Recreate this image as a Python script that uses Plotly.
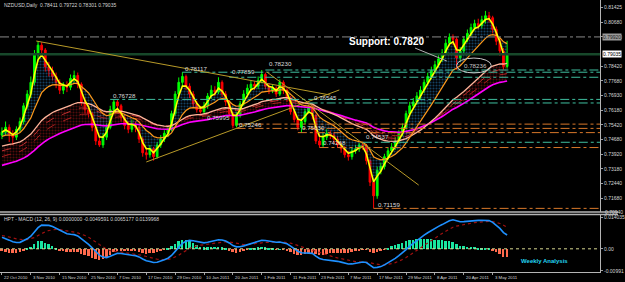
import plotly.graph_objects as go
import pandas as pd

# ---------------- data ----------------
date_labels = ["22 Oct 2010", "3 Nov 2010", "15 Nov 2010", "25 Nov 2010", "7 Dec 2010",
               "17 Dec 2010", "29 Dec 2010", "10 Jan 2011", "20 Jan 2011", "1 Feb 2011",
               "11 Feb 2011", "23 Feb 2011", "7 Mar 2011", "17 Mar 2011", "29 Mar 2011",
               "8 Apr 2011", "20 Apr 2011", "3 May 2011"]
date_label_bars = [0, 8, 16, 24, 32, 40, 48, 56, 64, 72, 80, 88, 96, 104, 112, 120, 128, 136]

opens = [0.7490, 0.7505, 0.7530, 0.7495, 0.7480, 0.7520, 0.7560, 0.7640, 0.7700, 0.7760,
         0.7900, 0.7950, 0.7925, 0.7840, 0.7820, 0.7790, 0.7760, 0.7720, 0.7740, 0.7735,
         0.7780, 0.7795, 0.7750, 0.7660, 0.7620, 0.7600, 0.7530, 0.7460, 0.7440, 0.7480,
         0.7530, 0.7620, 0.7660, 0.7640, 0.7580, 0.7540, 0.7520, 0.7545, 0.7530, 0.7470,
         0.7400, 0.7390, 0.7420, 0.7380, 0.7440, 0.7470, 0.7500, 0.7520, 0.7600, 0.7700,
         0.7760, 0.7790, 0.7740, 0.7700, 0.7650, 0.7620, 0.7610, 0.7640, 0.7690, 0.7720,
         0.7710, 0.7760, 0.7700, 0.7660, 0.7600, 0.7540, 0.7590, 0.7650, 0.7700, 0.7730,
         0.7750, 0.7740, 0.7770, 0.7800, 0.7740, 0.7720, 0.7730, 0.7700, 0.7760, 0.7720,
         0.7680, 0.7610, 0.7570, 0.7530, 0.7560, 0.7610, 0.7630, 0.7590, 0.7460, 0.7440,
         0.7480, 0.7500, 0.7490, 0.7470, 0.7440, 0.7420, 0.7390, 0.7380, 0.7410, 0.7420,
         0.7440, 0.7435, 0.7360, 0.7250, 0.7180, 0.7310, 0.7330, 0.7380, 0.7410, 0.7430,
         0.7460, 0.7500, 0.7530, 0.7600, 0.7640, 0.7660, 0.7690, 0.7720, 0.7760, 0.7790,
         0.7820, 0.7850, 0.7880, 0.7910, 0.7960, 0.7990, 0.7980, 0.7885, 0.7920, 0.7980,
         0.8010, 0.8040, 0.8060, 0.8050, 0.8080, 0.8100, 0.8090, 0.8030, 0.7970, 0.7920,
         0.78411]
highs = [0.7530, 0.7560, 0.7545, 0.7515, 0.7535, 0.7580, 0.7655, 0.7720, 0.7790, 0.7925,
         0.7971, 0.7965, 0.7935, 0.7865, 0.7840, 0.7810, 0.7775, 0.7760, 0.7765, 0.7800,
         0.7820, 0.7810, 0.7760, 0.7680, 0.7645, 0.7610, 0.7545, 0.7480, 0.7500, 0.7550,
         0.7640, 0.7673, 0.7670, 0.7650, 0.7595, 0.7560, 0.7570, 0.7560, 0.7540, 0.7480,
         0.7425, 0.7440, 0.7430, 0.7455, 0.7490, 0.7515, 0.7540, 0.7615, 0.7715, 0.7785,
         0.7812, 0.7800, 0.7755, 0.7715, 0.7665, 0.7640, 0.7660, 0.7705, 0.7745, 0.7740,
         0.7786, 0.7770, 0.7715, 0.7670, 0.7610, 0.7610, 0.7665, 0.7720, 0.7750, 0.7770,
         0.7765, 0.7790, 0.7823, 0.7810, 0.7755, 0.7750, 0.7740, 0.7775, 0.7770, 0.7730,
         0.7690, 0.7625, 0.7585, 0.7575, 0.7625, 0.7654, 0.7645, 0.7600, 0.7480, 0.7500,
         0.7520, 0.7515, 0.7505, 0.7485, 0.7455, 0.7435, 0.7410, 0.7430, 0.7440, 0.7450,
         0.7454, 0.7445, 0.7370, 0.7265, 0.7330, 0.7350, 0.7395, 0.7425, 0.7450, 0.7480,
         0.7515, 0.7550, 0.7615, 0.7660, 0.7680, 0.7710, 0.7740, 0.7775, 0.7810, 0.7840,
         0.7870, 0.7900, 0.7930, 0.7980, 0.8010, 0.8005, 0.7990, 0.7940, 0.7995, 0.8030,
         0.8060, 0.8080, 0.8085, 0.8100, 0.8125, 0.8120, 0.8100, 0.8045, 0.7985, 0.7935,
         0.79722]
lows = [0.7470, 0.7490, 0.7455, 0.7440, 0.7465, 0.7505, 0.7545, 0.7625, 0.7680, 0.7745,
        0.7870, 0.7890, 0.7815, 0.7790, 0.7770, 0.7730, 0.7700, 0.7700, 0.7710, 0.7720,
        0.7760, 0.7730, 0.7640, 0.7600, 0.7580, 0.7510, 0.7440, 0.7430, 0.7425, 0.7465,
        0.7520, 0.7600, 0.7615, 0.7560, 0.7520, 0.7500, 0.7505, 0.7505, 0.7450, 0.7380,
        0.7365, 0.7375, 0.7360, 0.7370, 0.7425, 0.7455, 0.7480, 0.7510, 0.7590, 0.7685,
        0.7740, 0.7720, 0.7680, 0.7635, 0.7605, 0.7600, 0.7599, 0.7625, 0.7675, 0.7690,
        0.7700, 0.7685, 0.7640, 0.7580, 0.7525, 0.7530, 0.7580, 0.7640, 0.7685, 0.7715,
        0.7720, 0.7725, 0.7755, 0.7725, 0.7700, 0.7705, 0.7685, 0.7690, 0.7700, 0.7660,
        0.7595, 0.7555, 0.7515, 0.7503, 0.7545, 0.7600, 0.7570, 0.7445, 0.7427, 0.7430,
        0.7465, 0.7470, 0.7450, 0.7425, 0.7400, 0.7375, 0.7360, 0.7365, 0.7395, 0.7405,
        0.7415, 0.7340, 0.7230, 0.7116, 0.7165, 0.7290, 0.7315, 0.7365, 0.7395, 0.7415,
        0.7445, 0.7485, 0.7520, 0.7585, 0.7625, 0.7645, 0.7675, 0.7705, 0.7745, 0.7775,
        0.7805, 0.7835, 0.7865, 0.7900, 0.7945, 0.7950, 0.7824, 0.7865, 0.7905, 0.7965,
        0.7995, 0.8025, 0.8030, 0.8035, 0.8060, 0.8065, 0.8010, 0.7950, 0.7895, 0.7825,
        0.78301]
closes = [0.7505, 0.7530, 0.7495, 0.7480, 0.7520, 0.7560, 0.7640, 0.7700, 0.7760, 0.7900,
          0.7950, 0.7925, 0.7840, 0.7820, 0.7790, 0.7760, 0.7720, 0.7740, 0.7735, 0.7780,
          0.7795, 0.7750, 0.7660, 0.7620, 0.7600, 0.7530, 0.7460, 0.7440, 0.7480, 0.7530,
          0.7620, 0.7660, 0.7640, 0.7580, 0.7540, 0.7520, 0.7545, 0.7530, 0.7470, 0.7400,
          0.7390, 0.7420, 0.7380, 0.7440, 0.7470, 0.7500, 0.7520, 0.7600, 0.7700, 0.7760,
          0.7790, 0.7740, 0.7700, 0.7650, 0.7620, 0.7610, 0.7640, 0.7690, 0.7720, 0.7710,
          0.7760, 0.7700, 0.7660, 0.7600, 0.7540, 0.7590, 0.7650, 0.7700, 0.7730, 0.7750,
          0.7740, 0.7770, 0.7800, 0.7740, 0.7720, 0.7730, 0.7700, 0.7760, 0.7720, 0.7680,
          0.7610, 0.7570, 0.7530, 0.7560, 0.7610, 0.7630, 0.7590, 0.7460, 0.7440, 0.7480,
          0.7500, 0.7490, 0.7470, 0.7440, 0.7420, 0.7390, 0.7380, 0.7410, 0.7420, 0.7440,
          0.7435, 0.7360, 0.7250, 0.7180, 0.7310, 0.7330, 0.7380, 0.7410, 0.7430, 0.7460,
          0.7500, 0.7530, 0.7600, 0.7640, 0.7660, 0.7690, 0.7720, 0.7760, 0.7790, 0.7820,
          0.7850, 0.7880, 0.7910, 0.7960, 0.7990, 0.7980, 0.7885, 0.7920, 0.7980, 0.8010,
          0.8040, 0.8060, 0.8050, 0.8080, 0.8100, 0.8090, 0.8030, 0.7970, 0.7920, 0.7841,
          0.79035]

# moving-average periods and their values just before the first visible bar
ma_periods = [3, 13, 34, 40, 47, 60]
ma_seeds = [0.7505, 0.7480, 0.7430, 0.7405, 0.7375, 0.7330]
macd_seeds = [0.7555, 0.7495, 0.0062]   # EMA12, EMA26, signal

price_ticks = [0.81425, 0.80680, 0.79920, 0.78420, 0.77680, 0.76930, 0.76180,
               0.75420, 0.74680, 0.73920, 0.73180, 0.72440, 0.71680]
macd_ticks = [0.014035, 0.0, -0.0099]
macd_tick_text = ["0.014035", "0.00", "-0.00991"]

# horizontal levels: price, first bar
teal_levels = [0.78230, 0.78117, 0.77859, 0.76728, 0.76545, 0.74537]
teal_start = [73, 50, 63, 30, 85, 100]
orange_levels = [0.75465, 0.75246, 0.75030, 0.74268, 0.71159]
orange_start = [65, 65, 82, 88, 103]
gray_level = 0.79920
last_price = 0.79035

# trend lines (bar, price) -> (bar, price)
trend_lines = [((9.5, 0.7971), (91.0, 0.7695)),
               ((40.0, 0.7353), (93.5, 0.7721)),
               ((73.4, 0.7813), (115.5, 0.7235))]

price_labels = ["0.78117", "0.77859", "0.78230", "0.76728", "0.75995", "0.75246",
                "0.76545", "0.75030", "0.74268", "0.74537", "0.71159"]
label_bars = [50.1, 63.3, 73.4, 30.1, 56.2, 65.2, 85.8, 82.5, 88.5, 100.3, 103.6]
label_prices = [0.7833, 0.7813, 0.7854, 0.7695, 0.7578, 0.7547, 0.7680, 0.7527,
                0.7455, 0.7481, 0.7138]

# ---------------- indicators ----------------
bars = list(range(len(closes)))


def ema(values, span, seed):
    s = pd.Series([seed] + list(values))
    return s.ewm(span=span, adjust=False).mean().iloc[1:].tolist()


mas = [ema(closes, p, s) for p, s in zip(ma_periods, ma_seeds)]
ma_fast, ma_orange, ma_salmon, ma_r1, ma_r2, ma_slow = mas
ema12 = ema(closes, 12, macd_seeds[0])
ema26 = ema(closes, 26, macd_seeds[1])
macd = [a - b for a, b in zip(ema12, ema26)]
signal = ema(macd, 9, macd_seeds[2])
hist = [m - s for m, s in zip(macd, signal)]

# ---------------- figure ----------------
XR = [-0.55, 165.75]
H_PLOT = 272.0
FONT = "Liberation Sans"

fig = go.Figure()

# red dotted ribbon between salmon and magenta
fig.add_trace(go.Scatter(x=bars, y=ma_slow, mode="lines", line=dict(width=0),
                         hoverinfo="skip", showlegend=False))
fig.add_trace(go.Scatter(x=bars, y=ma_salmon, mode="lines", line=dict(width=0),
                         fill="tonexty", fillcolor="rgba(0,0,0,0)",
                         fillpattern=dict(shape=".", fgcolor="#a01818", size=3,
                                          solidity=0.4, fillmode="overlay"),
                         hoverinfo="skip", showlegend=False))
# blue dotted cloud between orange and yellow
fig.add_trace(go.Scatter(x=bars, y=ma_orange, mode="lines", line=dict(width=0),
                         hoverinfo="skip", showlegend=False))
fig.add_trace(go.Scatter(x=bars, y=ma_fast, mode="lines", line=dict(width=0),
                         fill="tonexty", fillcolor="rgba(0,0,0,0)",
                         fillpattern=dict(shape=".", fgcolor="#2a80c0", size=3,
                                          solidity=0.4, fillmode="overlay"),
                         hoverinfo="skip", showlegend=False))

fig.add_trace(go.Candlestick(
    x=bars, open=opens, high=highs, low=lows, close=closes,
    increasing=dict(line=dict(color="#00ff00", width=1), fillcolor="#00ff00"),
    decreasing=dict(line=dict(color="#ff0000", width=1), fillcolor="#ff0000"),
    whiskerwidth=0, showlegend=False, hoverinfo="skip"))

line_specs = [
    (ma_r2, "#a82020", 1, "dash"),
    (ma_r1, "#c03030", 1, "dash"),
    (ma_slow, "#ff00ff", 1.6, "solid"),
    (ma_salmon, "#ffb49a", 1.3, "solid"),
    (ma_orange, "#ff9a1a", 1.2, "solid"),
    (ma_fast, "#ffff00", 1.6, "solid"),
]
for vals, col, w, d in line_specs:
    fig.add_trace(go.Scatter(x=bars, y=vals, mode="lines",
                             line=dict(color=col, width=w, dash=d),
                             hoverinfo="skip", showlegend=False))

# MACD panel
fig.add_trace(go.Bar(x=bars, y=hist, xaxis="x2", yaxis="y2", width=0.55,
                     marker=dict(color=["#19e6a0" if h >= 0 else "#ff6a4d" for h in hist],
                                 line=dict(width=0)),
                     hoverinfo="skip", showlegend=False))
fig.add_trace(go.Scatter(x=bars, y=signal, xaxis="x2", yaxis="y2", mode="lines",
                         line=dict(color="#a01010", width=1.2, dash="dot"),
                         hoverinfo="skip", showlegend=False))
fig.add_trace(go.Scatter(x=bars, y=macd, xaxis="x2", yaxis="y2", mode="lines",
                         line=dict(color="#1e90ff", width=1.6),
                         hoverinfo="skip", showlegend=False))

shapes = []
shapes.append(dict(type="line", xref="x", yref="y", x0=XR[0], x1=XR[1], y0=gray_level,
                   y1=gray_level, line=dict(color="#8a8a8a", width=1, dash="dashdot")))
shapes.append(dict(type="line", xref="x", yref="y", x0=XR[0], x1=XR[1], y0=last_price,
                   y1=last_price, line=dict(color="#17482a", width=2.5)))
for p, s in zip(teal_levels, teal_start):
    shapes.append(dict(type="line", xref="x", yref="y", x0=s, x1=XR[1], y0=p, y1=p,
                       line=dict(color="#3fbf9f", width=1, dash="dashdot")))
for p, s in zip(orange_levels, orange_start):
    shapes.append(dict(type="line", xref="x", yref="y", x0=s, x1=XR[1], y0=p, y1=p,
                       line=dict(color="#d8782a", width=1, dash="dashdot")))
for (xa, ya), (xb, yb) in trend_lines:
    shapes.append(dict(type="line", xref="x", yref="y", x0=xa, y0=ya, x1=xb, y1=yb,
                       line=dict(color="#b89a28", width=1)))
shapes.append(dict(type="circle", xref="x", yref="y", x0=126.0, x1=135.6, y0=0.7808,
                   y1=0.7884, line=dict(color="#c8c8c8", width=1)))
shapes.append(dict(type="line", xref="x", yref="y", x0=114.5, y0=0.7935, x1=123.3,
                   y1=0.7869, line=dict(color="#b0b0b0", width=1)))
shapes.append(dict(type="line", xref="x2", yref="y2", x0=XR[0], x1=XR[1], y0=0, y1=0,
                   line=dict(color="#d8d890", width=1, dash="dot")))
for yp in (212, 214.5):
    shapes.append(dict(type="line", xref="paper", yref="paper", x0=0, x1=1.03,
                       y0=1 - yp / H_PLOT, y1=1 - yp / H_PLOT,
                       line=dict(color="#b4b4b4", width=1.5)))

ann = []
small = dict(family=FONT, size=5, color="#d6d6d6")
datefont = dict(family=FONT, size=4.3, color="#d6d6d6")
ann.append(dict(xref="paper", yref="paper", x=0.004, y=1 - 5 / H_PLOT, xanchor="left",
                yanchor="middle", showarrow=False, font=small,
                text="NZDUSD,Daily  0.78411 0.79722 0.78301 0.79035"))
ann.append(dict(xref="paper", yref="paper", x=0.004, y=1 - 219 / H_PLOT, xanchor="left",
                yanchor="middle", showarrow=False, font=small,
                text="HPT - MACD (12, 26, 9) 0.0000000 -0.0049591 0.0065177 0.0139968"))
for t, b, p in zip(price_labels, label_bars, label_prices):
    ann.append(dict(xref="x", yref="y", x=b, y=p, text=t, xanchor="left", yanchor="middle",
                    showarrow=False, font=dict(family=FONT, size=6.2, color="#dcdcdc")))
ann.append(dict(xref="x", yref="y", x=127.4, y=0.7846, text="0.78236", xanchor="left",
                yanchor="middle", showarrow=False,
                font=dict(family=FONT, size=6.2, color="#c8c8c8")))
ann.append(dict(xref="x", yref="y", x=106.6, y=0.7971, text="<b>Support: 0.7820</b>",
                showarrow=False, font=dict(family=FONT, size=10, color="#ffffff")))
ann.append(dict(xref="paper", yref="paper", x=577 / 607, y=1 - 265.5 / H_PLOT,
                text="<b>Weekly Analysis</b>", showarrow=False,
                font=dict(family=FONT, size=6, color="#22d4f2")))
for t, b in zip(date_labels, date_label_bars):
    ann.append(dict(xref="x2", yref="paper", x=b, y=0, yshift=-1, text=t, xanchor="left",
                    yanchor="top", showarrow=False, font=datefont))
ann.append(dict(xref="paper", yref="y", x=1, xshift=2, y=gray_level, xanchor="left",
                yanchor="middle", text="0.79920", showarrow=False, bgcolor="#9a9a9a",
                borderpad=0, font=dict(family=FONT, size=5, color="#202020")))
ann.append(dict(xref="paper", yref="y", x=1, xshift=2, y=last_price, xanchor="left",
                yanchor="middle", text="0.79035", showarrow=False, bgcolor="#ffffff",
                borderpad=0, font=dict(family=FONT, size=5, color="#000000")))
ann.append(dict(xref="paper", yref="paper", x=1, xshift=3, y=1 - 212 / H_PLOT,
                xanchor="left", yanchor="middle", text="0.70940", showarrow=False,
                font=small))

axis_common = dict(showgrid=False, zeroline=False)
fig.update_layout(
    width=625, height=282, margin=dict(l=0, r=18, t=0, b=10),
    paper_bgcolor="#000000", plot_bgcolor="#000000", showlegend=False,
    bargap=0, shapes=shapes, annotations=ann,
    xaxis=dict(domain=[0, 1], range=XR, anchor="y", showticklabels=False,
               rangeslider=dict(visible=False), **axis_common),
    yaxis=dict(domain=[1 - 212 / H_PLOT, 1], range=[0.70974, 0.81807], side="right",
               anchor="x", tickvals=price_ticks, ticktext=[f"{v:.5f}" for v in price_ticks],
               ticks="outside", ticklen=2, tickcolor="#a0a0a0", showline=True,
               linecolor="#b4b4b4", linewidth=1, tickfont=small, **axis_common),
    xaxis2=dict(domain=[0, 1], range=XR, anchor="y2", tickvals=date_label_bars,
                showticklabels=False, ticks="outside", ticklen=2, tickcolor="#a0a0a0",
                showline=True, linecolor="#b4b4b4", **axis_common),
    yaxis2=dict(domain=[0, 1 - 214.5 / H_PLOT], range=[-0.0104, 0.0154], side="right",
                anchor="x2", tickvals=macd_ticks, ticktext=macd_tick_text, ticks="outside",
                ticklen=2, tickcolor="#a0a0a0", showline=True, linecolor="#b4b4b4",
                tickfont=small, **axis_common),
)

fig.write_html("out.html")
